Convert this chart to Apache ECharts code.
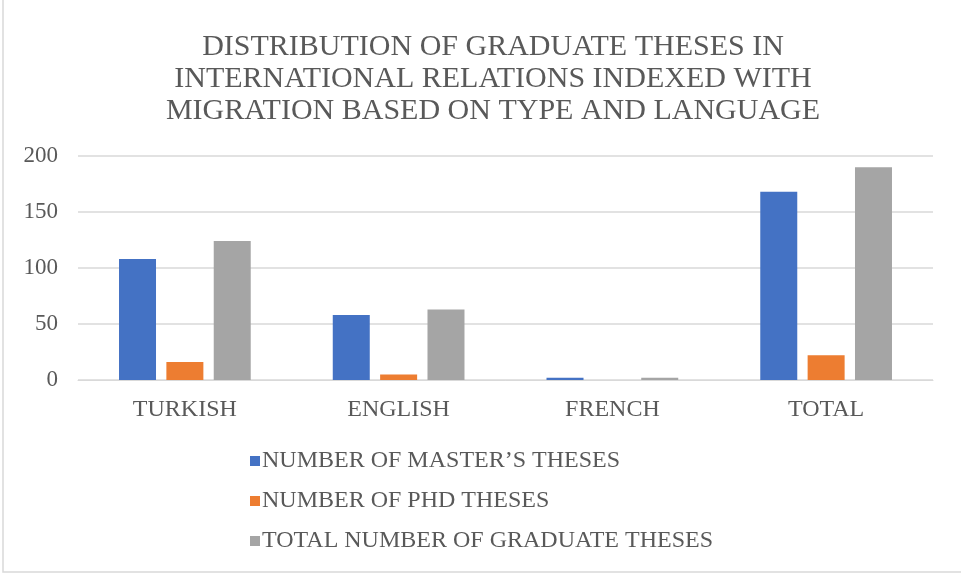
<!DOCTYPE html>
<html lang="en">
<head>
    <meta charset="UTF-8">
    <title>Graduate theses</title>
    <style>
        html, body {
            margin: 0;
            padding: 0;
            background: #fff;
        }
        #chart {
            width: 961px;
            height: 576px;
        }
    </style>
</head>
<body>
<div id="chart"></div>
<script src="https://cdn.jsdelivr.net/npm/echarts@6/dist/echarts.min.js"></script>
<script>
    var categories = ['TURKISH', 'ENGLISH', 'FRENCH', 'TOTAL'];
    var masters = [108, 58, 2, 168];
    var phds = [16, 5, 0, 22];
    var totals = [124, 63, 2, 190];
    var yTicks = [0, 50, 100, 150, 200];

    var font = 'Liberation Serif';
    var textColor = '#595959';

    var myChart = echarts.init(document.getElementById('chart'));
    var option = {
        backgroundColor: '#fff',
        title: {
            text: 'DISTRIBUTION OF GRADUATE THESES IN\nINTERNATIONAL RELATIONS INDEXED WITH\nMIGRATION BASED ON TYPE AND LANGUAGE',
            left: 488,
            textAlign: 'center',
            top: 26,
            textStyle: {
                fontFamily: font,
                fontWeight: 'normal',
                fontSize: 30,
                lineHeight: 32,
                color: textColor
            }
        },
        legend: {
            orient: 'vertical',
            left: 245,
            top: 444,
            itemWidth: 10,
            itemHeight: 10,
            itemGap: 16,
            icon: 'rect',
            textStyle: {
                fontFamily: font,
                fontSize: 24,
                color: textColor,
                padding: [0, 0, 0, -3]
            }
        },
        grid: {
            left: 78,
            right: 28,
            top: 156,
            bottom: 196
        },
        xAxis: {
            type: 'category',
            data: categories,
            axisTick: {show: false},
            axisLine: {lineStyle: {color: '#d9d9d9', width: 1}},
            axisLabel: {
                fontFamily: font,
                fontSize: 24,
                color: textColor,
                margin: 18
            }
        },
        yAxis: {
            type: 'value',
            min: yTicks[0],
            max: yTicks[yTicks.length - 1],
            interval: 50,
            axisLine: {show: false},
            axisTick: {show: false},
            splitLine: {lineStyle: {color: '#d9d9d9', width: 1.5}},
            axisLabel: {
                fontFamily: font,
                fontSize: 23,
                color: textColor,
                margin: 20
            }
        },
        series: [{
            name: 'NUMBER OF MASTER’S THESES',
            type: 'bar',
            data: masters,
            barWidth: 37,
            barGap: '28%',
            itemStyle: {color: '#4472C4'}
        }, {
            name: 'NUMBER OF PHD THESES',
            type: 'bar',
            data: phds,
            barWidth: 37,
            barGap: '28%',
            itemStyle: {color: '#ED7D31'}
        }, {
            name: 'TOTAL NUMBER OF GRADUATE THESES',
            type: 'bar',
            data: totals,
            barWidth: 37,
            barGap: '28%',
            itemStyle: {color: '#A5A5A5'}
        }],
        graphic: [{
            type: 'rect',
            shape: {x: 3, y: -2, width: 970, height: 574},
            style: {fill: 'none', stroke: '#d9d9d9', lineWidth: 1.5},
            silent: true
        }]
    };
    myChart.setOption(option);
</script>
</body>
</html>
